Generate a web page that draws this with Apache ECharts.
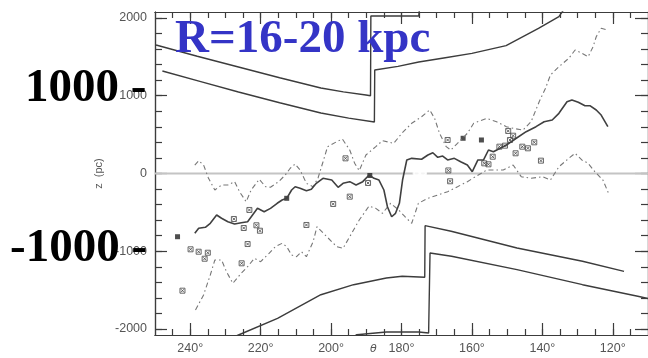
<!DOCTYPE html>
<html>
<head>
<meta charset="utf-8">
<script src="https://cdn.jsdelivr.net/npm/echarts@6/dist/echarts.min.js"></script>
<style>
html,body{margin:0;padding:0;background:#fff;}
#chart{width:648px;height:358px;}
</style>
</head>
<body>
<div id="chart"></div>
<script>
// Warp of the outer disc: height z (pc) against galactocentric azimuth θ (deg), ring R = 16-20 kpc

// axis ticks
const thetaMajor = [240, 220, 200, 180, 160, 140, 120];
const thetaMinor = [115, 120, 125, 130, 135, 140, 145, 150, 155, 160, 165, 170, 175, 180, 185,
  190, 195, 200, 205, 210, 215, 220, 225, 230, 235, 240, 245];
const zMajor = [-2000, -1000, 0, 1000, 2000];
const zMinor = [-2000, -1800, -1600, -1400, -1200, -1000, -800, -600, -400, -200, 0,
  200, 400, 600, 800, 1000, 1200, 1400, 1600, 1800, 2000];

// model envelopes [θ, z]
const upperOuter = [[249.7, 1652], [238, 1508], [226.3, 1370], [214.6, 1232], [202.9, 1100],
  [196.5, 1050], [190.1, 1010], [188.8, 1000], [188.7, 2025], [182, 2025], [175.1, 2025], [174.6, 2250]];
const upperInner = [[247.9, 1318], [237, 1182], [226.3, 1048], [214.6, 910], [202.9, 778],
  [195, 712], [187.7, 662], [187.6, 1331], [181, 1378], [175.1, 1434], [168, 1486], [160, 1545],
  [150.3, 1645], [141.1, 1867], [135.3, 2017], [132.5, 2200]];
const lowerInner = [[232, -2189], [226.3, -2077], [215.2, -1862], [202.9, -1559], [193.6, -1430],
  [184.3, -1344], [179.8, -1322], [173.4, -1335], [173.3, -671], [165.9, -743], [147.2, -958],
  [128.6, -1129], [116.8, -1258]];
const lowerOuter = [[197, -2205], [192.7, -2073], [184.3, -2038], [175.1, -2038], [172.3, -2051],
  [171.9, -1022], [165.8, -1065], [147.2, -1237], [128.6, -1430], [112.9, -1579], [110, -1607]];

// mean warp
const meanWarp = [[238.7, -769], [237.6, -705], [235.7, -692], [234.3, -640], [232.5, -534],
  [231.1, -576], [229.3, -620], [227.4, -649], [225.5, -633], [223.7, -620], [222.3, -534],
  [220.9, -448], [219.0, -491], [217.2, -448], [215.3, -383], [213.9, -341], [212.6, -319],
  [211.2, -212], [210.2, -170], [208.8, -190], [207.0, -221], [205.6, -203], [204.2, -126],
  [202.3, -62], [199.8, -84], [198.0, -177], [196.6, -126], [194.7, -105], [192.9, -148],
  [191.0, -105], [189.2, -19], [187.8, -62], [186.4, -84], [185.0, -212], [184.0, -427],
  [182.8, -556], [181.7, -512], [180.6, -383], [179.7, -84], [178.5, 174], [177.1, 195],
  [174.3, 183], [172.5, 238], [171.1, 267], [169.7, 208], [168.3, 225], [166.9, 174],
  [165.0, 195], [163.2, 152], [161.3, 109], [159.9, 23], [158.3, 174], [156.7, 174],
  [155.3, 302], [153.9, 280], [152.0, 324], [150.2, 367], [147.4, 453], [144.6, 538],
  [141.8, 602], [139.5, 666], [137.2, 688], [135.3, 774], [133.0, 923], [131.6, 945],
  [129.8, 916], [127.9, 872], [126.5, 872], [124.7, 817], [123.3, 752], [121.4, 602]];

// upper and lower dispersion
const upperSpread = [[238.7, 109], [237.6, 165], [236.2, 109], [234.8, -62], [233.0, -212],
  [231.1, -148], [229.3, -148], [227.4, -105], [226.0, -234], [224.1, -363], [222.7, -212],
  [220.4, -75], [218.6, -170], [217.2, -177], [214.9, -105], [213.0, -19], [211.6, 67],
  [210.2, 122], [208.8, 45], [207.0, -126], [205.1, -170], [203.7, -58], [202.3, 148],
  [201.0, 345], [198.4, 409], [196.8, 444], [194.7, 302], [193.3, 131], [192.0, 36],
  [190.1, 238], [187.3, 345], [185.4, 422], [182.2, 388], [179.9, 517], [177.1, 646],
  [174.3, 730], [172.0, 817], [170.6, 710], [169.2, 517], [167.3, 345], [166.0, 302],
  [164.1, 388], [161.3, 517], [159.5, 646], [155.8, 710], [153.0, 666], [150.2, 602],
  [148.3, 581], [145.5, 559], [143.2, 666], [140.9, 923], [139.1, 1096], [137.7, 1267],
  [135.3, 1373], [132.5, 1481], [130.7, 1588], [128.8, 1546], [127.0, 1502], [125.6, 1631],
  [124.7, 1759], [123.3, 1867], [121.4, 1845]];
const lowerSpread = [[238.5, -1755], [236.2, -1562], [234.3, -1305], [233.0, -1112],
  [231.1, -1112], [229.7, -1263], [227.9, -1412], [225.5, -1283], [223.7, -1199],
  [221.8, -1091], [220.0, -1134], [217.6, -1026], [215.8, -941], [213.9, -898], [212.6, -941],
  [211.2, -1048], [209.8, -1070], [208.4, -1006], [207.0, -1070], [205.1, -877], [204.0, -684],
  [201.2, -813], [198.4, -941], [196.6, -962], [194.7, -813], [192.0, -598], [189.2, -418],
  [187.3, -448], [185.4, -512], [183.1, -383], [180.8, -469], [179.0, -556], [177.1, -640],
  [175.2, -383], [172.5, -319], [169.7, -276], [166.9, -234], [164.1, -170], [161.3, -105],
  [159.0, -41], [155.8, 45], [151.1, 45], [148.3, 109], [146.0, -41], [143.2, -62],
  [140.0, -41], [137.7, -84], [135.3, 87], [132.5, 195], [130.7, 260], [128.8, 174],
  [127.0, 131], [125.1, 23], [122.8, -84], [121.0, -276]];

// individual tracers
const crossPts = [[239.9, -975], [237.6, -1006], [235.0, -1019], [235.9, -1096], [242.2, -1507],
  [227.6, -585], [223.2, -469], [224.8, -701], [221.2, -666], [220.2, -736], [223.7, -907],
  [225.4, -1155], [207.0, -662], [195.9, 195], [194.7, -298], [199.4, -392], [189.5, -122],
  [166.9, 431], [166.7, 39], [166.2, -100], [149.7, 547], [149.2, 431], [148.3, 486],
  [152.2, 345], [150.6, 358], [154.1, 216], [156.5, 131], [155.3, 118], [147.6, 260],
  [145.7, 345], [144.1, 324], [142.3, 401], [140.4, 165]];
const filledPts = [[243.6, -813], [212.6, -319], [189.0, -26], [157.3, 431], [162.5, 453]];
const circlePts = [[186.8, -148], [184.5, -190], [173.4, 495], [175.7, 4], [173.9, 4],
  [164.8, 174], [163.8, 199], [164.5, 122]];
const squarePts = [[173.2, 602], [176.9, 422], [176.3, 392]];
const zeroLine = [[250, 0], [110, 0]];

const ink = '#3c3c3c';
const labelFont = { color: '#555', fontSize: 12.5, fontFamily: 'Liberation Sans, Arial, sans-serif' };

function thetaAxis(position, ticks, len, withLabels) {
  return {
    type: 'value', position: position, min: 110, max: 250, inverse: true,
    axisLine: { show: true, onZero: false, lineStyle: { color: ink, width: 1.2 } },
    axisTick: { show: true, inside: true, length: len, customValues: ticks,
      lineStyle: { color: ink, width: 1.2 } },
    axisLabel: withLabels
      ? Object.assign({ show: true, customValues: ticks, margin: 7,
          formatter: function (v) { return v + '°'; } }, labelFont)
      : { show: false },
    splitLine: { show: false }
  };
}
function zAxis(position, ticks, len, withLabels) {
  const ax = {
    type: 'value', position: position, min: -2077, max: 2077,
    axisLine: { show: true, onZero: false, lineStyle: { color: ink, width: 1.2 } },
    axisTick: { show: true, inside: true, length: len, customValues: ticks,
      lineStyle: { color: ink, width: 1.2 } },
    axisLabel: withLabels
      ? Object.assign({ show: true, customValues: ticks, margin: 8,
          formatter: function (v) { return String(v); } }, labelFont)
      : { show: false },
    splitLine: { show: false }
  };
  if (withLabels) {
    ax.name = 'z  (pc)';
    ax.nameLocation = 'middle';
    ax.nameRotate = 90;
    ax.nameGap = 37;
    ax.nameTextStyle = { color: '#555', fontSize: 11, fontFamily: 'Liberation Sans, Arial, sans-serif' };
  }
  return ax;
}

const crossSymbol = 'path://M0,0L10,0L10,10L0,10Z M2,2L8,8 M8,2L2,8';

const chart = echarts.init(document.getElementById('chart'), null, { renderer: 'canvas' });
chart.setOption({
  animation: false,
  backgroundColor: '#fff',
  grid: { left: 155, top: 12, width: 502, height: 323, containLabel: false },
  xAxis: [
    thetaAxis('bottom', thetaMajor, 12, true),
    thetaAxis('bottom', thetaMinor, 6, false),
    thetaAxis('top', thetaMajor, 12, false),
    thetaAxis('top', thetaMinor, 6, false)
  ],
  yAxis: [
    zAxis('left', zMajor, 12, true),
    zAxis('left', zMinor, 7, false),
    zAxis('right', zMajor, 13, false),
    zAxis('right', zMinor, 7, false)
  ],
  series: [
    { type: 'line', data: zeroLine, symbol: 'none', silent: true, z: 1,
      lineStyle: { color: '#c4c4c4', width: 2 } },
    { type: 'line', data: upperOuter, symbol: 'none', lineStyle: { color: ink, width: 1.4 } },
    { type: 'line', data: upperInner, symbol: 'none', lineStyle: { color: ink, width: 1.4 } },
    { type: 'line', data: lowerInner, symbol: 'none', lineStyle: { color: ink, width: 1.4 } },
    { type: 'line', data: lowerOuter, symbol: 'none', lineStyle: { color: ink, width: 1.4 } },
    { type: 'line', data: upperSpread, symbol: 'none',
      lineStyle: { color: '#777', width: 1.1, type: [5, 3, 1.5, 3] } },
    { type: 'line', data: lowerSpread, symbol: 'none',
      lineStyle: { color: '#777', width: 1.1, type: [5, 3, 1.5, 3] } },
    { type: 'line', data: meanWarp, symbol: 'none', lineStyle: { color: '#404040', width: 1.6 } },
    { type: 'scatter', data: crossPts, symbol: crossSymbol, symbolSize: 5,
      itemStyle: { color: 'none', borderColor: '#444', borderWidth: 1 } },
    { type: 'scatter', data: filledPts, symbol: 'rect', symbolSize: 5,
      itemStyle: { color: '#222' } },
    { type: 'scatter', data: circlePts, symbol: 'emptyCircle', symbolSize: [6, 5],
      itemStyle: { color: '#fff', borderColor: '#555', borderWidth: 1 } },
    { type: 'scatter', data: squarePts, symbol: 'emptyRect', symbolSize: 5,
      itemStyle: { color: '#fff', borderColor: '#444', borderWidth: 1.2 } }
  ],
  graphic: [
    { type: 'text', left: 370, top: 344, z: 50,
      style: { text: 'θ', fill: '#555', font: 'italic 11px "DejaVu Sans", sans-serif' } },
    { type: 'text', x: 175, y: 40, z: 100,
      style: { text: 'R=16-20 kpc', fill: '#3434c6', textVerticalAlign: 'middle',
        font: 'bold 47px "Liberation Serif", "Times New Roman", serif' } },
    { type: 'text', x: 25, y: 89, z: 100,
      style: { text: '1000 -', fill: '#000', textVerticalAlign: 'middle',
        font: 'bold 47px "Liberation Serif", "Times New Roman", serif' } },
    { type: 'text', x: 10, y: 249, z: 100,
      style: { text: '-1000 -', fill: '#000', textVerticalAlign: 'middle',
        font: 'bold 47px "Liberation Serif", "Times New Roman", serif' } }
  ]
});
</script>
</body>
</html>
